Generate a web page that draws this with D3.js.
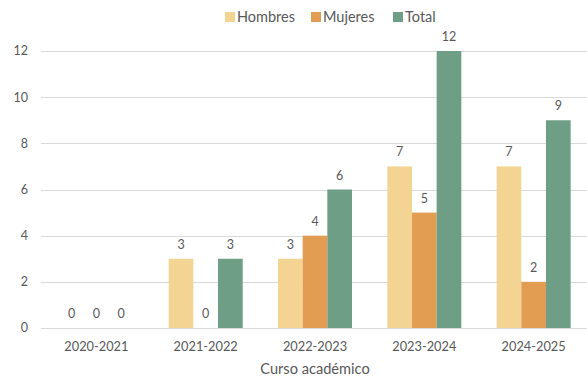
<!DOCTYPE html>
<html><head><meta charset="utf-8">
<script src="https://cdn.jsdelivr.net/npm/d3@7"></script>
<style>body{margin:0;background:#fff}svg{display:block}text{font-family:Lato,"Open Sans",sans-serif;fill:#595959}</style>
</head><body><svg id="c" width="587" height="380"></svg>
<script>
const categories = ["2020-2021","2021-2022","2022-2023","2023-2024","2024-2025"];
const series = ["Hombres","Mujeres","Total"];
const hombres = [0,3,3,7,7];
const mujeres = [0,0,4,5,2];
const total = [0,3,6,12,9];
const yTicks = [0,2,4,6,8,10,12];
const xTitle = "Curso académico";
const colors = ["#F4D492","#E29D52","#6E9E86"];

const values = [hombres, mujeres, total];
const svg = d3.select("#c");
const W = 587, H = 380;
const x = d3.scaleBand().domain(categories).range([41.7, 588.3]).paddingInner(0.323).paddingOuter(0.1615);
const xs = d3.scaleBand().domain(series).range([0, x.bandwidth()]);
const y = d3.scaleLinear().domain([0,12]).range([328, 51]);

// gridlines
svg.append("g").selectAll("line").data(yTicks).join("line")
  .attr("x1", 41).attr("x2", W)
  .attr("y1", d=>Math.round(y(d))+0.5).attr("y2", d=>Math.round(y(d))+0.5)
  .attr("stroke","#d9d9d9").attr("stroke-width",1);

// y labels
svg.append("g").selectAll("text").data(yTicks).join("text")
  .attr("x", 28).attr("y", d=>y(d)).attr("dy","0.35em")
  .attr("text-anchor","end").style("font-size","12.5px").text(d=>d);

// bars
const g = svg.append("g");
categories.forEach((c,i)=>{
  series.forEach((s,j)=>{
    const v = values[j][i];
    g.append("rect")
      .attr("x", x(c)+xs(s)).attr("width", xs.bandwidth())
      .attr("y", y(v)).attr("height", y(0)-y(v))
      .attr("fill", colors[j]);
    g.append("text")
      .attr("x", x(c)+xs(s)+xs.bandwidth()/2).attr("y", y(v)-10)
      .attr("text-anchor","middle").style("font-size","12.5px").text(v);
  });
});

// x labels
svg.append("g").selectAll("text").data(categories).join("text")
  .attr("x", d=>x(d)+x.bandwidth()/2).attr("y", 351)
  .attr("text-anchor","middle").style("font-size","12.8px").text(d=>d);

svg.append("text").attr("x", 315).attr("y", 374).attr("text-anchor","middle")
  .style("font-size","14.6px").text(xTitle);

// legend
const legX = [225, 311, 393];
const lg = svg.append("g");
series.forEach((s,j)=>{
  lg.append("rect").attr("x", legX[j]).attr("y", 12).attr("width",10).attr("height",10).attr("fill",colors[j]);
  lg.append("text").attr("x", legX[j]+12).attr("y", 17).attr("dy","0.35em").style("font-size","14.5px").text(s);
});
</script></body></html>
